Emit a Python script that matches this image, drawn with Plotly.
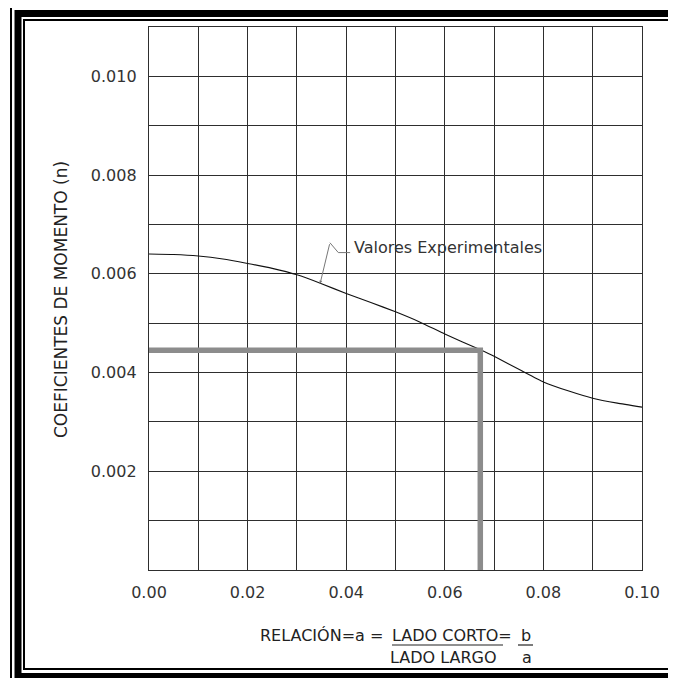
import plotly.graph_objects as go

# ---------------- data ----------------
ratio = [0.0, 0.005, 0.01, 0.015, 0.02, 0.025, 0.03, 0.035, 0.04, 0.045, 0.05,
         0.055, 0.06, 0.067, 0.07, 0.0757, 0.08, 0.085, 0.09, 0.095, 0.10]
moment = [0.00640, 0.00639, 0.00636, 0.00630, 0.00621, 0.00611, 0.00598, 0.00580,
          0.00560, 0.00542, 0.00523, 0.00502, 0.00478, 0.00447, 0.00433, 0.00403,
          0.00381, 0.00363, 0.00348, 0.00338, 0.00330]

read_x = [0.0, 0.0672, 0.0672]       # guide path (read-off lines)
read_y = [0.00445, 0.00445, 0.0]

x_tickvals = [0.0, 0.01, 0.02, 0.03, 0.04, 0.05, 0.06, 0.07, 0.08, 0.09, 0.10]
x_ticktext = ["0.00", "", "0.02", "", "0.04", "", "0.06", "", "0.08", "", "0.10"]
y_tickvals = [0.0, 0.001, 0.002, 0.003, 0.004, 0.005, 0.006, 0.007, 0.008, 0.009, 0.010, 0.011]
y_ticktext = ["", "", "0.002", "", "0.004", "", "0.006", "", "0.008", "", "0.010", ""]

curve_label = "Valores Experimentales"
y_title = "COEFICIENTES DE MOMENTO (n)"

# ---------------- layout helpers ----------------
W, H = 676, 678
OFF = 8                      # page body margin
L, R, T, B = 149, 642, 27, 570   # plot area in screen pixels


def px(x):
    return (x - L) / (R - L)


def py(y):
    return (B - y) / (B - T)


FONT = "DejaVu Sans"
TXT = "#333333"

fig = go.Figure()
fig.add_trace(go.Scatter(x=ratio, y=moment, mode="lines",
                         line=dict(color="#111111", width=1.1, shape="spline", smoothing=0.4),
                         hoverinfo="skip"))
fig.add_trace(go.Scatter(x=read_x, y=read_y, mode="lines",
                         line=dict(color="#8c8c8c", width=5.5),
                         hoverinfo="skip"))

axis_common = dict(showgrid=True, gridcolor="#2e2e2e", gridwidth=1.4,
                   showline=True, linecolor="#2e2e2e", linewidth=1.4, mirror=True,
                   zeroline=False, ticks="", tickfont=dict(family=FONT, size=16, color=TXT),
                   fixedrange=True)

fig.update_layout(
    width=W, height=H,
    margin=dict(l=L - OFF, r=W - R + OFF, t=T - OFF, b=H - B + OFF),
    paper_bgcolor="white", plot_bgcolor="white",
    showlegend=False,
    xaxis=dict(range=[0, 0.10], tickmode="array", tickvals=x_tickvals, ticktext=x_ticktext,
               ticklabelstandoff=8, **axis_common),
    yaxis=dict(range=[0, 0.011], tickmode="array", tickvals=y_tickvals, ticktext=y_ticktext,
               ticklabelstandoff=8, **axis_common),
)

# decorative triple frame
fig.add_shape(type="rect", xref="paper", yref="paper", x0=px(11), x1=px(700), y0=py(6), y1=py(700),
              line=dict(color="black", width=2), layer="above")
fig.add_shape(type="rect", xref="paper", yref="paper", x0=px(18), x1=px(705), y0=py(13.5), y1=py(676.5),
              line=dict(color="black", width=7), layer="above")
fig.add_shape(type="rect", xref="paper", yref="paper", x0=px(24), x1=px(674.5), y0=py(20), y1=py(669),
              line=dict(color="black", width=2), layer="above")

# curve label with leader
fig.add_annotation(x=0.0411, y=0.00653, xref="x", yref="y", text=curve_label, showarrow=False,
                   xanchor="left", yanchor="middle", font=dict(family=FONT, size=16, color=TXT))
fig.add_shape(type="path", xref="x", yref="y",
              path="M 0.0408 0.00643 L 0.0384 0.00643 L 0.0367 0.00663",
              line=dict(color="#777777", width=1))
fig.add_annotation(x=0.0347, y=0.00580, ax=0.0367, ay=0.00663, axref="x", ayref="y",
                   xref="x", yref="y", text="", showarrow=True, arrowhead=2, arrowsize=0.6,
                   arrowwidth=1, arrowcolor="#777777")

# y axis title
fig.add_annotation(xref="paper", yref="paper", x=px(61), y=py(300), text=y_title, textangle=-90,
                   showarrow=False, xanchor="center", yanchor="middle",
                   font=dict(family=FONT, size=17, color="#222222"))

# x axis title (fraction)
tf = dict(family=FONT, size=16, color="#222222")
fig.add_annotation(xref="paper", yref="paper", x=px(385), y=py(635), text="RELACIÓN=a =",
                   showarrow=False, xanchor="right", yanchor="middle", font=tf)
fig.add_annotation(xref="paper", yref="paper", x=px(390), y=py(635), text="LADO CORTO=",
                   showarrow=False, xanchor="left", yanchor="middle", font=tf)
fig.add_annotation(xref="paper", yref="paper", x=px(526), y=py(635), text="b",
                   showarrow=False, xanchor="center", yanchor="middle", font=tf)
fig.add_annotation(xref="paper", yref="paper", x=px(499), y=py(657), text="LADO LARGO",
                   showarrow=False, xanchor="right", yanchor="middle", font=tf)
fig.add_annotation(xref="paper", yref="paper", x=px(527), y=py(657), text="a",
                   showarrow=False, xanchor="center", yanchor="middle", font=tf)
fig.add_shape(type="line", xref="paper", yref="paper", x0=px(392), x1=px(503), y0=py(645), y1=py(645),
              line=dict(color="#222222", width=1.2))
fig.add_shape(type="line", xref="paper", yref="paper", x0=px(518), x1=px(533), y0=py(645), y1=py(645),
              line=dict(color="#222222", width=1.2))

fig.write_html("out.html")
